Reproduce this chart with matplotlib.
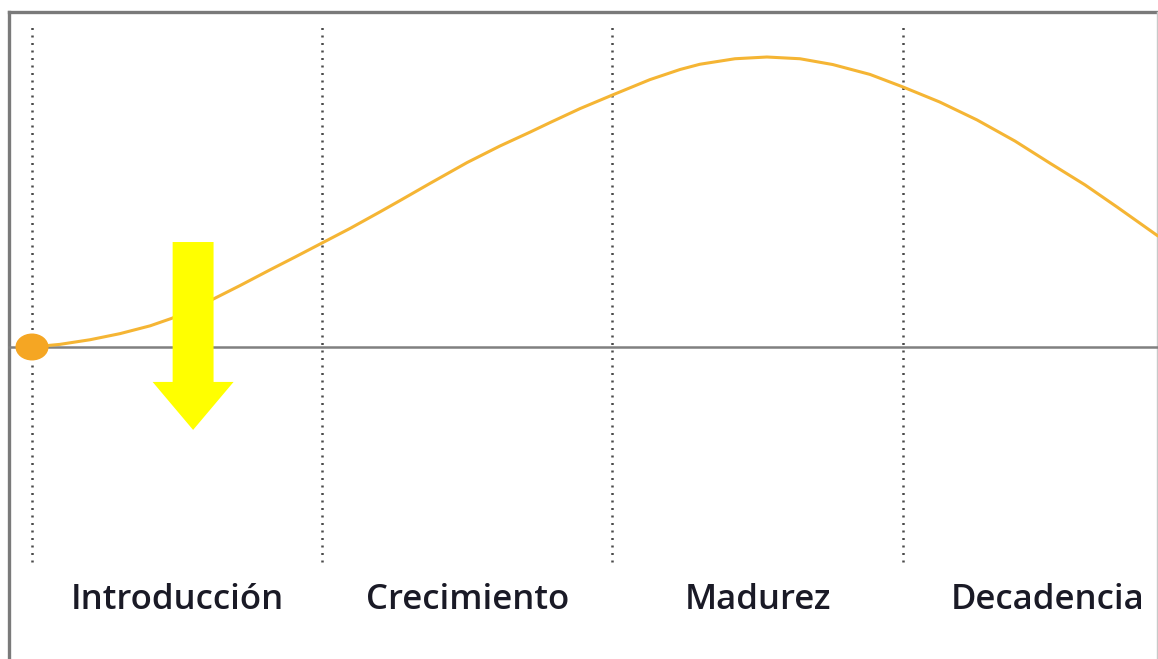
import matplotlib
matplotlib.use("Agg")
import matplotlib.pyplot as plt
from matplotlib.patches import Ellipse, FancyArrow

# Data (x: time, each stage = 100 units; y: relative sales, peak = 100)
stages = ["Introducción", "Crecimiento", "Madurez", "Decadencia"]
stage_bounds = [0, 100, 200, 300]
stage_centers = [50, 150, 250, 350]
curve_x = [0, 9.6, 20.0, 30.3, 40.7, 48.2, 56.2, 62.4, 71.7, 82.0, 90.6, 100,
           109.6, 119.9, 126.8, 137.1, 149.9, 161.2, 171.6, 178.5, 188.8, 200,
           212.9, 223.3, 230.1, 242.2, 253.2, 264.6, 275.9, 288.7, 300,
           312.7, 325.6, 338.7, 350.7, 362.8, 373.8, 387.9]
curve_y = [0, 0.9, 2.5, 4.6, 7.3, 9.9, 13.3, 16.5, 21.2, 26.6, 31.0, 35.9,
           40.9, 46.6, 50.5, 56.4, 63.6, 69.3, 74.1, 77.4, 82.2, 86.9,
           92.2, 95.7, 97.5, 99.4, 100.0, 99.4, 97.4, 94.0, 89.7,
           84.5, 78.3, 71.0, 63.4, 55.9, 48.3, 38.3]

X0, X1 = -11.03, 387.95
Y0, Y1 = -107.6, 119.66

fig = plt.figure(figsize=(11.58, 6.59), dpi=100)
ax = fig.add_axes([0, 0, 1, 1])
ax.set_xlim(X0, X1)
ax.set_ylim(Y0, Y1)
ax.axis("off")

def fx(x):
    return (x - X0) / (X1 - X0)

def fy(y):
    return (y - Y0) / (Y1 - Y0)

# frame
ax.axvline(-7.9, ymin=0, ymax=fy(115.5), color="#7a7a7a", lw=2.4)
ax.axhline(115.5, xmin=fx(-7.9), xmax=1, color="#7a7a7a", lw=2.4)
ax.axvline(387.6, ymin=0, ymax=fy(115.5), color="#c8c8c8", lw=1.0)

# baseline
ax.axhline(0, xmin=fx(-7.9), xmax=1, color="#808080", lw=1.8, zorder=2)

# dotted stage dividers
ax.vlines(stage_bounds, -74.1, 110.3, colors="#4a4a4a",
          linestyles=(0, (0.8, 2.2)), lw=1.8, zorder=1)

# curve
ax.plot(curve_x, curve_y, color="#F5B534", lw=2.2, zorder=3,
        solid_capstyle="round", solid_joinstyle="round")

# start point
ax.add_patch(Ellipse((curve_x[0], curve_y[0]), width=11.4, height=9.3,
                     facecolor="#F5A623", edgecolor="none", zorder=4))

# yellow arrow
ax.add_patch(FancyArrow(55.5, 36.2, 0, -64.8, width=14.1, head_width=27.9,
                        head_length=16.55, length_includes_head=True,
                        facecolor="#FFFF00", edgecolor="none", zorder=5))

# stage labels
for xc, name in zip(stage_centers, stages):
    ax.text(xc, -87.3, name, ha="center", va="center", fontsize=25,
            family="Open Sans", weight="semibold", color="#1a1a26")

fig.savefig("out.png", dpi=100)
